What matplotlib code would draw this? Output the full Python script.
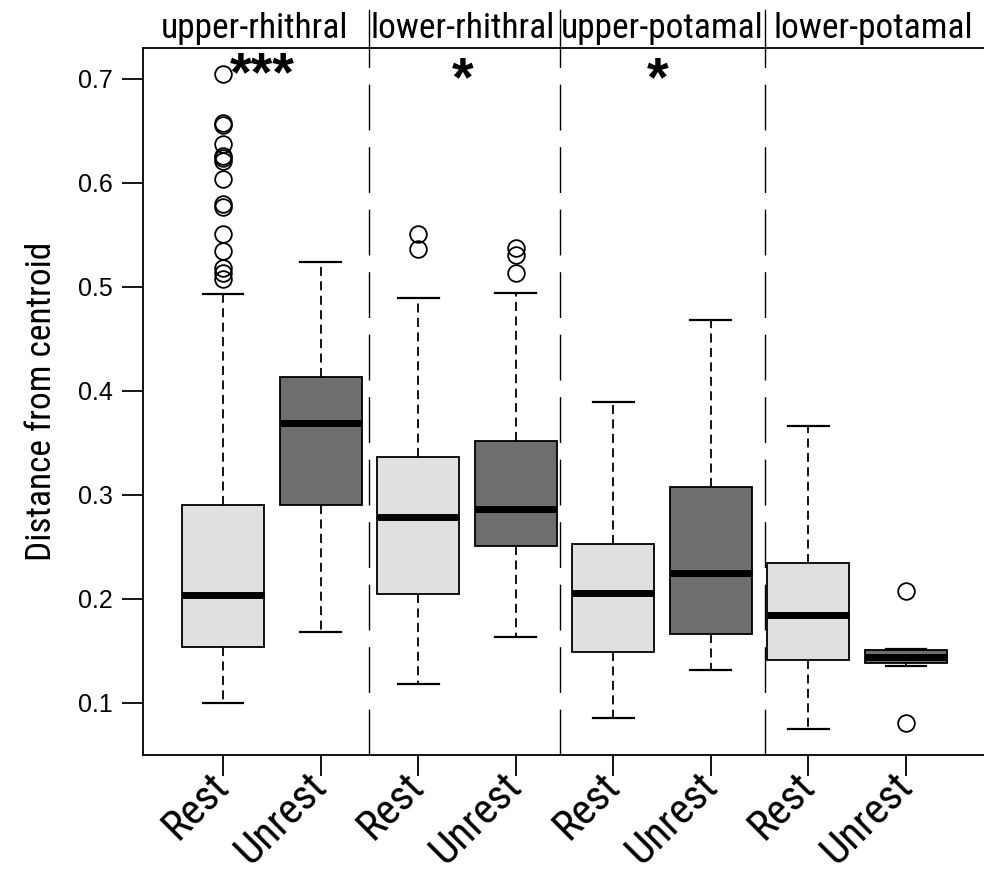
import matplotlib
matplotlib.use("Agg")
import matplotlib.pyplot as plt
import matplotlib.transforms as mtransforms
from matplotlib import font_manager as fm

# ---------------- data ----------------
tick_labels = ["Rest", "Unrest", "Rest", "Unrest", "Rest", "Unrest", "Rest", "Unrest"]
groups = ["upper-rhithral", "lower-rhithral", "upper-potamal", "lower-potamal"]
group_label_x = [1.32, 3.46, 5.50, 7.66]
separators_x = [2.50, 4.45, 6.55]

whislo = [0.100, 0.168, 0.118, 0.163, 0.085, 0.132, 0.075, 0.1353]
q1     = [0.154, 0.290, 0.205, 0.251, 0.149, 0.166, 0.141, 0.1385]
med    = [0.204, 0.369, 0.279, 0.286, 0.206, 0.225, 0.184, 0.1445]
q3     = [0.290, 0.413, 0.336, 0.352, 0.253, 0.308, 0.234, 0.1512]
whishi = [0.493, 0.524, 0.489, 0.494, 0.389, 0.468, 0.366, 0.1522]
fliers = [
    [0.705, 0.658, 0.656, 0.637, 0.626, 0.624, 0.621, 0.604, 0.580, 0.577,
     0.551, 0.535, 0.518, 0.513, 0.508],
    [],
    [0.551, 0.536],
    [0.537, 0.531, 0.513],
    [],
    [],
    [],
    [0.208, 0.081],
]
box_colors = ["#E0E0E0", "#6E6E6E"] * 4

sig_labels = ["***", "*", "*"]
sig_x = [1.40, 3.46, 5.45]
sig_y = [0.689, 0.684, 0.684]

ylabel = "Distance from centroid"
yticks = [0.1, 0.2, 0.3, 0.4, 0.5, 0.6, 0.7]


# ---------------- fonts ----------------
def find_condensed():
    prefs = ["Liberation Sans Narrow", "Arial Narrow", "Roboto Condensed",
             "Open Sans Condensed", "Noto Sans", "DejaVu Sans", "Roboto", "Open Sans"]
    cands = []
    for f in fm.fontManager.ttflist:
        w = f.weight
        try:
            w = int(w)
        except (TypeError, ValueError):
            w = 400 if str(w).lower() in ("normal", "regular", "book") else 700
        st = str(f.stretch).lower()
        if f.style != "normal" or not (350 <= w <= 450):
            continue
        if "condensed" in st or "narrow" in f.name.lower() or "condensed" in f.name.lower():
            if "extra" in st or "ultra" in st:
                continue
            cands.append(f)
    for p in prefs:
        for f in cands:
            if f.name == p:
                return f.fname
    return None


cond_path = find_condensed()
if cond_path:
    def cprop(size):
        return fm.FontProperties(fname=cond_path, size=size)
    sz_ylab, sz_group, sz_xt = 25.5, 25.5, 31
else:
    def cprop(size):
        return fm.FontProperties(family=["Liberation Sans", "DejaVu Sans"], size=size)
    sz_ylab, sz_group, sz_xt = 22, 22, 25

regular = ["Liberation Sans", "DejaVu Sans"]

# ---------------- plot ----------------
fig = plt.figure(figsize=(9.84, 8.72), dpi=100)
ax = fig.add_axes([143 / 984, 1 - 755 / 872, 843 / 984, (755 - 48) / 872])

stats = []
for i in range(len(med)):
    stats.append(dict(med=med[i], q1=q1[i], q3=q3[i], whislo=whislo[i],
                      whishi=whishi[i], fliers=fliers[i]))

positions = list(range(1, len(med) + 1))
bp = ax.bxp(stats, positions=positions, widths=0.84, capwidths=0.42,
            patch_artist=True, showfliers=True,
            boxprops=dict(edgecolor="black", linewidth=1.3),
            medianprops=dict(color="black", linewidth=5, solid_capstyle="butt"),
            whiskerprops=dict(color="black", linewidth=1.3, linestyle=(0, (5, 3))),
            capprops=dict(color="black", linewidth=1.6),
            flierprops=dict(marker="o", markersize=12, markerfacecolor="none",
                            markeredgecolor="black", markeredgewidth=1.3))
for patch, c in zip(bp["boxes"], box_colors):
    patch.set_facecolor(c)

ax.set_xlim(0.18, 8.82)
ax.set_ylim(0.0498, 0.7298)

for s in ["left", "bottom", "top", "right"]:
    ax.spines[s].set_linewidth(1.3)

ax.set_yticks(yticks)
ax.set_yticklabels([f"{v:.1f}" for v in yticks], family=regular, fontsize=18)
ax.set_xticks(positions)
ax.set_xticklabels(tick_labels, rotation=45, ha="right", va="center",
                   rotation_mode="anchor")
for lab in ax.get_xticklabels():
    lab.set_fontproperties(cprop(sz_xt))
ax.tick_params(axis="y", length=15, width=1.3, pad=7)
ax.tick_params(axis="x", length=15, width=1.3, pad=3)

ax.set_ylabel(ylabel, fontproperties=cprop(sz_ylab), labelpad=14)

# separators
trans = mtransforms.blended_transform_factory(ax.transData, ax.transAxes)
for sx in separators_x:
    ax.axvline(sx, color="black", linewidth=1.0, linestyle=(0, (33, 12)), zorder=1)
    ax.plot([sx, sx], [1.0, 1.054], transform=trans, color="black",
            linewidth=1.0, clip_on=False)

# group labels
for gx, g in zip(group_label_x, groups):
    ax.text(gx, 1.004, g, transform=trans, ha="center", va="bottom",
            fontproperties=cprop(sz_group), clip_on=False)

# significance
for sx, sy, s in zip(sig_x, sig_y, sig_labels):
    ax.text(sx, sy, s, ha="center", va="baseline", family=regular,
            fontsize=40, fontweight="bold")

fig.savefig("out.png", dpi=100)
